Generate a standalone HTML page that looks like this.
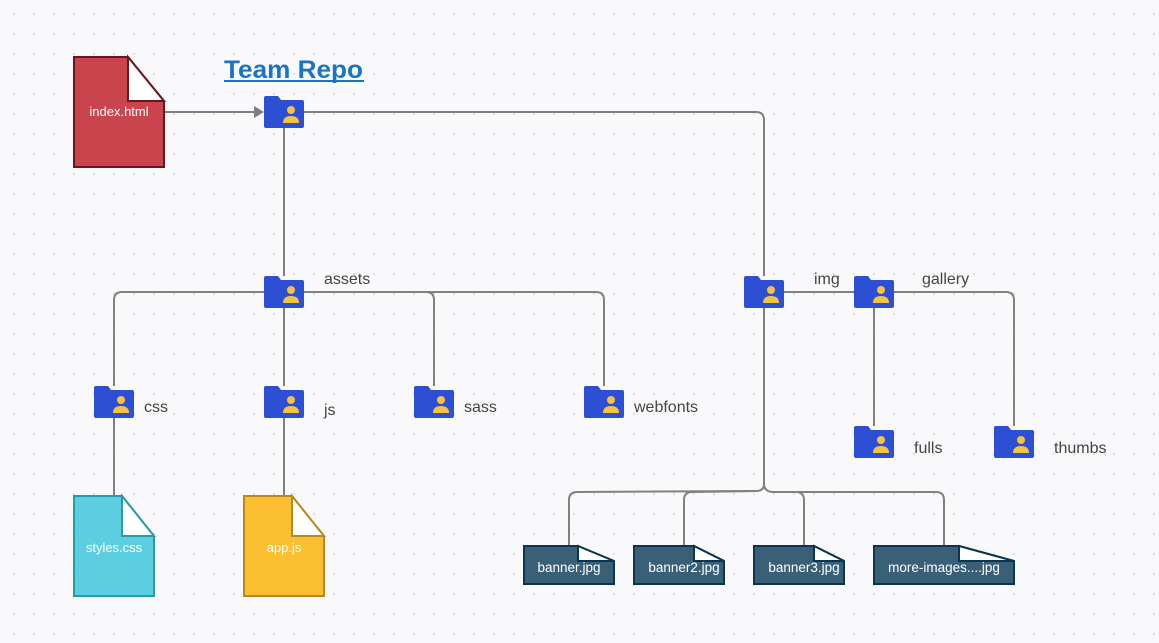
<!DOCTYPE html>
<html><head><meta charset="utf-8"><style>
html,body{margin:0;padding:0;background:#f9f9fb;}
svg{display:block;font-family:"Liberation Sans",sans-serif;}
</style></head><body>
<svg width="1159" height="643" viewBox="0 0 1159 643">
<defs>
<pattern id="dots" width="20" height="20" patternUnits="userSpaceOnUse"><circle cx="14" cy="14" r="1.2" fill="#dfe0e6"/></pattern>
<g id="fold">
<path d="M0 2 Q0 0 2 0 L14 0 L17 4 L38 4 Q40 4 40 6 L40 30 Q40 32 38 32 L2 32 Q0 32 0 30 Z" fill="#2d4fd3"/>
<circle cx="27" cy="14" r="4" fill="#f5c242"/>
<path d="M19 27 Q19 20 27 20 Q35 20 35 27 Z" fill="#f5c242"/>
</g>
</defs>
<rect width="1159" height="643" fill="url(#dots)"/>
<g fill="none" stroke="#808080" stroke-width="2">
<line x1="164" y1="112" x2="256" y2="112"/>
<path d="M304 112 L756 112 Q764 112 764 120 L764 276"/>
<line x1="284" y1="128" x2="284" y2="276"/>
<path d="M114 386 L114 300 Q114 292 122 292 L596 292 Q604 292 604 300 L604 386"/>
<path d="M426 292 Q434 292 434 300 L434 386"/>
<line x1="284" y1="308" x2="284" y2="386"/>
<line x1="114" y1="418" x2="114" y2="496"/>
<line x1="284" y1="418" x2="284" y2="496"/>
<line x1="784" y1="292" x2="854" y2="292"/>
<path d="M894 292 L1006 292 Q1014 292 1014 300 L1014 426"/>
<line x1="874" y1="308" x2="874" y2="426"/>
<path d="M764 308 L764 484 Q764 491 756 491 L577 492 Q569 492 569 500 L569 546"/>
<path d="M756 491 L692 492 Q684 492 684 500 L684 546"/>
<path d="M764 484 Q764 491 772 492 L796 492 Q804 492 804 500 L804 546"/>
<path d="M796 492 L936 492 Q944 492 944 500 L944 546"/>
</g>
<polygon points="254,106 264,112 254,118" fill="#808080"/>
<text x="224" y="78" font-size="25" fill="#1a73c4" textLength="139" lengthAdjust="spacingAndGlyphs" style="font-weight:600">Team Repo</text>
<line x1="224" y1="81" x2="364" y2="81" stroke="#1a73c4" stroke-width="2"/>
<path d="M74 57 L128 57 L164 101 L164 167 L74 167 Z" fill="#c9444d" stroke="#6b1520" stroke-width="2"/>
<path d="M128 57 L164 101 L128 101 Z" fill="#fff" stroke="#6b1520" stroke-width="2"/>
<text x="119" y="116" font-size="13" fill="#fff" text-anchor="middle">index.html</text>
<path d="M74 496 L122 496 L154 536 L154 596 L74 596 Z" fill="#5bcfdf" stroke="#2a9aa8" stroke-width="2"/>
<path d="M122 496 L154 536 L122 536 Z" fill="#fff" stroke="#2a9aa8" stroke-width="2"/>
<text x="114" y="552" font-size="13" fill="#fff" text-anchor="middle">styles.css</text>
<path d="M244 496 L292 496 L324 536 L324 596 L244 596 Z" fill="#fcbf32" stroke="#b58a20" stroke-width="2"/>
<path d="M292 496 L324 536 L292 536 Z" fill="#fff" stroke="#b58a20" stroke-width="2"/>
<text x="284" y="552" font-size="13" fill="#fff" text-anchor="middle">app.js</text>
<g stroke="#0d3550" stroke-width="2">
<path d="M524 546 L578 546 L614 561 L614 584 L524 584 Z" fill="#3a6078"/><path d="M578 546 L614 561 L578 561 Z" fill="#fff"/>
<path d="M634 546 L694 546 L724 561 L724 584 L634 584 Z" fill="#3a6078"/><path d="M694 546 L724 561 L694 561 Z" fill="#fff"/>
<path d="M754 546 L814 546 L844 561 L844 584 L754 584 Z" fill="#3a6078"/><path d="M814 546 L844 561 L814 561 Z" fill="#fff"/>
<path d="M874 546 L959 546 L1014 561 L1014 584 L874 584 Z" fill="#3a6078"/><path d="M959 546 L1014 561 L959 561 Z" fill="#fff"/>
</g>
<g font-size="13.5" fill="#fff" text-anchor="middle">
<text x="569" y="572">banner.jpg</text>
<text x="684" y="572">banner2.jpg</text>
<text x="804" y="572">banner3.jpg</text>
<text x="944" y="572">more-images....jpg</text>
</g>
<use href="#fold" x="264" y="96"/>
<use href="#fold" x="264" y="276"/>
<use href="#fold" x="94" y="386"/>
<use href="#fold" x="264" y="386"/>
<use href="#fold" x="414" y="386"/>
<use href="#fold" x="584" y="386"/>
<use href="#fold" x="744" y="276"/>
<use href="#fold" x="854" y="276"/>
<use href="#fold" x="854" y="426"/>
<use href="#fold" x="994" y="426"/>
<g font-size="16" fill="#444">
<text x="324" y="284">assets</text>
<text x="814" y="284">img</text>
<text x="922" y="284">gallery</text>
<text x="144" y="412">css</text>
<text x="324" y="415">js</text>
<text x="464" y="412">sass</text>
<text x="634" y="412">webfonts</text>
<text x="914" y="453">fulls</text>
<text x="1054" y="453">thumbs</text>
</g>
</svg>
</body></html>
